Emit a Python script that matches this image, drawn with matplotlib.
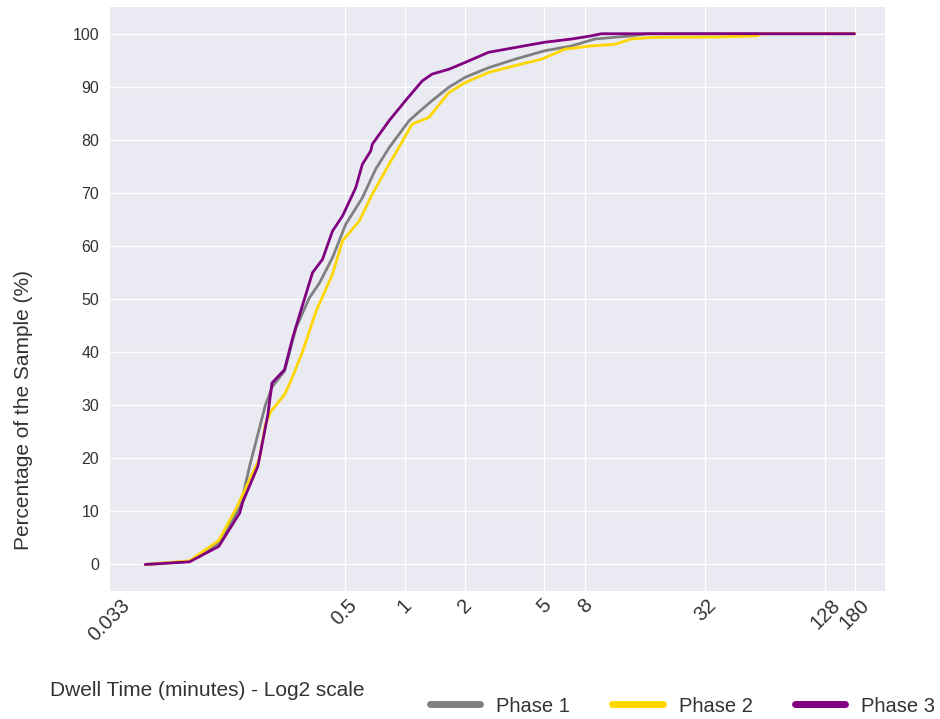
import matplotlib.pyplot as plt
from matplotlib.ticker import NullLocator

# dwell time in minutes vs cumulative share of sample (%)
phase1_x = [0.05, 0.0833, 0.1167, 0.15, 0.1667, 0.2, 0.2167, 0.25, 0.285, 0.332,
            0.373, 0.434, 0.506, 0.613, 0.715, 0.834, 1.05, 1.223, 1.372, 1.662,
            2.011, 2.632, 3.573, 5.045, 6.86, 8.96, 13.67, 16.56, 180]
phase1_y = [0, 0.6, 4.0, 11.0, 18.5, 30.0, 33.5, 36.5, 44.6, 50.2,
            53.0, 57.8, 64.1, 69.1, 74.5, 78.5, 83.6, 85.8, 87.4, 89.9,
            91.8, 93.6, 95.2, 96.8, 97.7, 99.0, 99.6, 100, 100]

phase2_x = [0.05, 0.0833, 0.1167, 0.143, 0.187, 0.2, 0.2137, 0.2495, 0.268, 0.308,
            0.359, 0.434, 0.488, 0.591, 0.688, 0.834, 0.9, 1.09, 1.32, 1.662,
            2.011, 2.632, 3.573, 4.857, 6.35, 8.63, 11.28, 13.67, 17.2, 38.5,
            58.6, 60.9, 180]
phase2_y = [0, 0.7, 4.5, 10.6, 20.0, 26.4, 28.9, 32.0, 34.5, 40.2,
            47.7, 54.7, 61.0, 64.7, 69.8, 75.4, 77.5, 83.0, 84.2, 88.9,
            90.8, 92.7, 94.0, 95.2, 97.1, 97.7, 98.0, 99.0, 99.3, 99.4,
            99.6, 100, 100]

phase3_x = [0.05, 0.0833, 0.1167, 0.1487, 0.1545, 0.1834, 0.206, 0.216, 0.2495, 0.274,
            0.308, 0.345, 0.387, 0.434, 0.488, 0.568, 0.613, 0.675, 0.688, 0.834,
            1.009, 1.223, 1.372, 1.662, 2.011, 2.632, 3.573, 5.045, 6.86, 8.63,
            9.68, 180]
phase3_y = [0, 0.5, 3.4, 9.7, 11.9, 18.5, 28.3, 34.2, 36.7, 42.7,
            49.0, 55.0, 57.5, 62.8, 65.7, 71.0, 75.4, 77.9, 79.2, 83.6,
            87.4, 91.1, 92.4, 93.3, 94.6, 96.5, 97.4, 98.4, 99.0, 99.6,
            100, 100]

labels = ["Phase 1", "Phase 2", "Phase 3"]
colors = ["grey", "gold", "purple"]

tick_vals = [0.033, 0.5, 1, 2, 5, 8, 32, 128, 180]
tick_labels = ["0.033", "0.5", "1", "2", "5", "8", "32", "128", "180"]

plt.style.use("seaborn-v0_8-darkgrid")
plt.rcParams["font.family"] = ["Liberation Sans", "DejaVu Sans"]

fig = plt.figure(figsize=(9.4, 7.19), dpi=100)
ax = fig.add_axes([0.116, 0.178, 0.8255, 0.812])

series = [(phase1_x, phase1_y), (phase2_x, phase2_y), (phase3_x, phase3_y)]
for (x, y), c, lab in zip(series, colors, labels):
    ax.plot(x, y, color=c, lw=2, label=lab)

ax.set_xscale("log", base=2)
ax.set_xticks(tick_vals)
ax.set_xticklabels(tick_labels, rotation=45, fontsize=14.5, color="#333333")
ax.xaxis.set_minor_locator(NullLocator())
ax.set_xlim(0.0329, 256)

ax.set_yticks(range(0, 101, 10))
ax.tick_params(axis="y", labelsize=11.5, pad=7, labelcolor="#333333")
ax.set_ylim(-5, 105)

ax.set_ylabel("Percentage of the Sample (%)", fontsize=15, color="#333333")
ax.yaxis.set_label_coords(-0.098, 0.31)

fig.text(50 / 940, 1 - 690 / 719, "Dwell Time (minutes) - Log2 scale",
         fontsize=15, va="center", color="#333333")

leg = fig.legend(loc="center right", bbox_to_anchor=(0.995, 1 - 706 / 719), ncol=3,
                 frameon=False, fontsize=14.5, handlelength=2.5, handletextpad=0.8,
                 columnspacing=2.1, borderaxespad=0, borderpad=0)
for line in leg.get_lines():
    line.set_linewidth(5)
for t in leg.get_texts():
    t.set_color("#333333")

fig.savefig("out.png", dpi=100)
